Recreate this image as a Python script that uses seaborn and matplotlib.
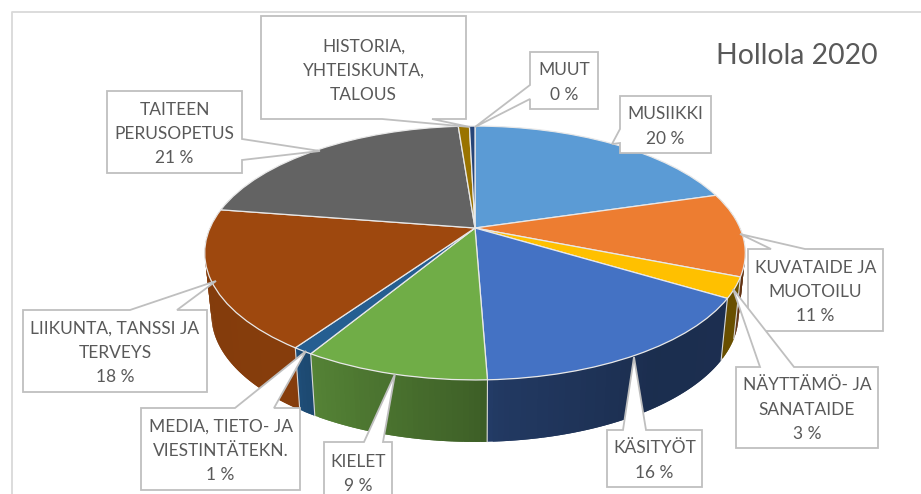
import numpy as np
import matplotlib
matplotlib.use('Agg')
import matplotlib.pyplot as plt
from matplotlib.transforms import Transform
import seaborn as sns

# slices, clockwise from the top
categories = ['MUSIIKKI', 'KUVATAIDE JA\nMUOTOILU', 'NÄYTTÄMÖ- JA\nSANATAIDE', 'KÄSITYÖT', 'KIELET',
              'MEDIA, TIETO- JA\nVIESTINTÄTEKN.', 'LIIKUNTA, TANSSI JA\nTERVEYS', 'TAITEEN\nPERUSOPETUS',
              'HISTORIA,\nYHTEISKUNTA,\nTALOUS', 'MUUT']
shares = [20.4, 10.6, 2.6, 15.7, 9.2, 1.0, 17.8, 21.3, 0.8, 0.4]
show_pct = [True, True, True, True, True, True, True, True, False, True]
colours = ['#5b9bd5', '#ed7d31', '#ffc000', '#4472c4', '#70ad47', '#255e91', '#9e480e', '#636363', '#997300', '#264478']
title = 'Hollola 2020'

# callout outlines in pixels: box (left, top, right, bottom), pointer (base, tip, base)
callouts = [
   ((620, 96, 711, 153), ((620, 129), (612, 144), (620, 143))),
   ((748, 249, 883, 331), ((771, 249), (740, 234), (805, 249))),
   ((736, 367, 878, 448), ((760, 367), (733, 289), (794, 367))),
   ((607, 430, 702, 487), ((623, 430), (634, 357), (646, 430))),
   ((324, 442, 392, 502), ((364, 442), (395, 374), (383, 442))),
   ((141, 408, 300, 490), ((235, 408), (306, 351), (274, 408))),
   ((23, 310, 207, 392), ((130, 310), (216, 281), (177, 310))),
   ((107, 91, 242, 173), ((242, 139), (320, 151), (242, 160))),
   ((261, 16, 466, 119), ((382, 119), (470, 127), (432, 119))),
   ((530, 52, 598, 109), ((530, 85), (475, 127), (530, 99))),
]

CX, CY, A, B, K = 475., 228., 265., 122., 0.197
DEPTH, SHRINK = 62., 0.975


def project(u, v, low=False):
   ''' perspective view of the unit disc, to pixels '''
   den = 1 + K * v
   x, y = A * u / den, CY - B * v / den
   if low:
      return CX + SHRINK * x, y + DEPTH
   return CX + x, y


class DiscView(Transform):
   input_dims = output_dims = 2

   def transform_non_affine(self, values):
      x, y = project(values[:, 0], values[:, 1])
      return np.column_stack([x, y])


def wall_shade(clock_angle):
   # how dark the rim gets going round the front, clockwise degrees from the top
   return np.interp(clock_angle, [90, 145, 176, 180, 210, 216, 250, 285],
                    [0.42, 0.40, 0.50, 0.56, 0.75, 0.85, 0.83, 0.85])


def main():
   sns.set_theme(style='white')
   plt.rcParams['font.family'] = ['Lato', 'DejaVu Sans']
   palette = sns.color_palette(colours)

   fig = plt.figure(figsize=(9.21, 4.94), dpi=100)
   ax = fig.add_axes([0, 0, 1, 1])

   wedges, _ = ax.pie(shares, colors=palette, startangle=90, counterclock=False,
                      wedgeprops={'edgecolor': '#e8e8e8', 'linewidth': 0.9, 'zorder': 3})
   ax.set_aspect('auto')
   ax.set_xlim(0, 921)
   ax.set_ylim(494, 0)
   ax.set_axis_off()

   view = DiscView() + ax.transData
   for w in wedges:
      w.set_transform(view)

   # rim below the disc, strips overlap by a degree so no seams show
   for w, col in zip(wedges, palette):
      start, stop = sorted((w.theta1, w.theta2))
      angles = np.arange(start, stop + 1.0, 1.0)
      angles[-1] = stop
      for a0, a1 in zip(angles[:-1], angles[1:]):
         mid = (a0 + a1) / 2
         if np.sin(np.radians(mid)) > 0.25:
            continue
         t = np.radians([a0, min(a1 + 1.0, stop)])
         tx, ty = project(np.cos(t), np.sin(t))
         bx, by = project(np.cos(t), np.sin(t), low=True)
         shade = np.array(col) * wall_shade((90 - mid) % 360)
         ax.fill([tx[0], tx[1], bx[1], bx[0]], [ty[0], ty[1], by[1], by[0]],
                 facecolor=shade, edgecolor='none', zorder=1)
      # pale seam where one slice meets the next
      t = np.radians(stop)
      if np.sin(t) < 0:
         tx, ty = project(np.cos(t), np.sin(t))
         bx, by = project(np.cos(t), np.sin(t), low=True)
         ax.plot([tx, bx], [ty, by], color='#d8d8d8', lw=0.8, zorder=2)

   # chart area border, runs off the picture on the right and at the bottom
   ax.plot([12, 12, 925], [500, 12, 12], color='#d9d9d9', lw=1.3, zorder=0)

   for i, (name, share, with_pct) in enumerate(zip(categories, shares, show_pct)):
      (left, top, right, bottom), pointer = callouts[i]
      base0, tip, base1 = pointer
      corners = [(left, top), (right, top), (right, bottom), (left, bottom)]
      # put the pointer into the outline on the side that it leaves from
      if base0[1] == top:
         outline = [corners[0], base0, tip, base1] + corners[1:]
      elif base0[1] == bottom:
         outline = corners[:3] + [base1, tip, base0] + corners[3:]
      elif base0[0] == right:
         outline = corners[:1] + [(right, top), base0, tip, base1] + corners[2:]
      else:
         outline = corners + [base1, tip, base0]
      xs, ys = zip(*outline)
      ax.fill(xs, ys, facecolor='white', edgecolor='#bfbfbf', lw=1.3, zorder=5)

      text = name + (f'\n{round(share)} %' if with_pct else '')
      if name == 'KIELET':
         ty = 472
      elif name.startswith('HISTORIA'):
         ty = 69
      else:
         ty = (top + bottom) / 2
      ax.text((left + right) / 2, ty + 2, text, ha='center', va='center', fontsize=12.5,
              color='#595959', linespacing=1.62, zorder=6)

   ax.text(797, 56, title, ha='center', va='center', fontsize=20.4, color='#595959', zorder=6)

   plt.savefig('out.png', dpi=100)


if __name__ == '__main__':
   main()
